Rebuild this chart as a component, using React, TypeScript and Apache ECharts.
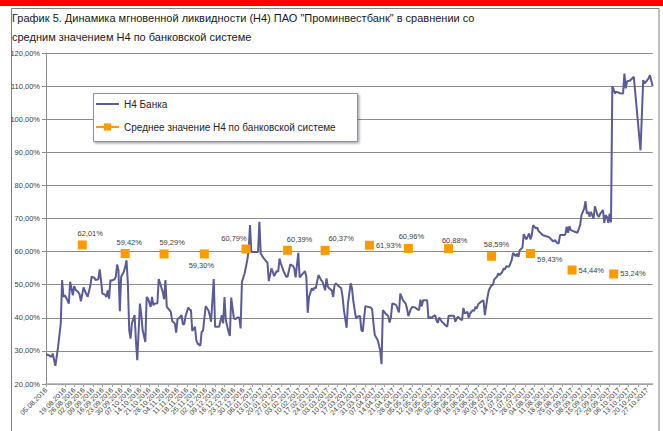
import React, { useEffect, useRef } from 'react';
import * as echarts from 'echarts';

// ---------- data ----------
const TITLE_LINES = [
  'График 5. Динамика мгновенной ликвидности (Н4) ПАО "Проминвестбанк" в сравнении со',
  'средним значением Н4 по банковской системе',
];
const SERIES_NAMES = ['Н4 Банка', 'Среднее значение Н4 по банковской системе'];

const START_DATE = '05.08.2016'; // first x-axis category (weekly labels)
const END_DAY = 452; // last day on the axis, counted from START_DATE
const LABEL_STEP_DAYS = 7;

const Y_MIN = 20;
const Y_MAX = 120;
const Y_STEP = 10;

// Bank H4, day offsets from START_DATE and values, %
const BANK_DAY = [
  0, 2, 4, 5, 7, 9, 11, 12, 13, 14, 16, 17, 18, 20, 21, 22, 24, 25, 26, 28, 29, 31, 33, 34, 36, 37, 39, 40, 41, 42,
  44, 45, 46, 47, 48, 49, 51, 52, 53, 54, 55, 56, 58, 59, 60, 61, 62, 63, 64, 66, 67, 68, 70, 71, 72, 74, 75, 76, 78, 79,
  80, 81, 83, 84, 85, 87, 88, 89, 90, 92, 93, 94, 96, 97, 98, 99, 101, 102, 103, 104, 106, 107, 108, 109, 111, 112, 113, 115, 116, 117,
  119, 121, 122, 123, 125, 126, 127, 129, 131, 132, 133, 134, 136, 137, 138, 140, 141, 143, 144, 145, 146, 148, 150, 151, 152, 153, 156, 158, 159, 160,
  162, 164, 165, 166, 168, 169, 170, 172, 173, 174, 175, 177, 179, 180, 182, 184, 185, 186, 188, 189, 190, 191, 193, 194, 195, 196, 198, 199, 200, 201,
  203, 204, 205, 206, 208, 209, 210, 211, 213, 214, 215, 216, 218, 220, 221, 222, 224, 225, 227, 228, 229, 231, 232, 234, 235, 236, 237, 238, 240, 242,
  243, 244, 245, 247, 248, 249, 250, 251, 253, 255, 256, 257, 258, 260, 261, 263, 264, 265, 266, 268, 269, 270, 272, 273, 275, 276, 278, 279, 280, 281,
  283, 284, 285, 286, 287, 288, 290, 291, 292, 293, 295, 296, 297, 298, 299, 300, 302, 304, 305, 306, 307, 309, 310, 311, 312, 314, 315, 316, 318, 319,
  320, 321, 322, 324, 326, 327, 329, 330, 332, 333, 334, 336, 337, 338, 340, 341, 342, 343, 345, 346, 347, 348, 350, 351, 352, 353, 355, 356, 357, 358,
  360, 361, 362, 363, 365, 366, 367, 369, 370, 372, 374, 375, 377, 378, 379, 381, 382, 383, 384, 386, 387, 388, 389, 390, 391, 393, 394, 396, 398, 399,
  401, 402, 403, 404, 405, 406, 407, 408, 409, 411, 412, 413, 414, 415, 416, 417, 418, 419, 420, 421, 422, 424, 425, 428, 430, 431, 432, 433, 435, 438,
  443, 445, 446, 447, 449, 450, 452,
];
const BANK_H4 = [
  29.0, 28.7, 28.2, 29.2, 25.5, 31.2, 38.3, 51.4, 46.3, 46.8, 45.3, 44.3, 50.9, 46.8, 49.6, 48.5, 47.8, 47.1, 45.0, 49.2, 48.1, 46.3, 49.6, 52.4, 52.1, 51.4, 51.6, 54.6, 51.4, 47.3,
  47.0, 46.3, 48.3, 45.8, 51.4, 51.2, 51.6, 52.4, 56.1, 54.4, 42.0, 52.4, 53.9, 55.4, 57.4, 50.4, 36.3, 33.7, 38.3, 40.8, 33.2, 27.2, 44.3, 40.8, 36.3, 32.7, 46.3, 45.8, 43.3, 46.3,
  43.8, 44.3, 44.3, 51.7, 50.4, 47.8, 45.6, 51.4, 43.3, 42.3, 41.8, 39.0, 38.3, 35.5, 39.6, 39.8, 40.8, 38.0, 38.1, 40.5, 43.1, 42.5, 42.3, 36.0, 37.3, 33.2, 32.2, 31.6, 35.8, 36.1,
  43.5, 42.3, 40.8, 38.8, 51.7, 37.3, 37.3, 37.3, 40.8, 38.3, 46.3, 39.3, 35.8, 34.5, 46.1, 39.8, 39.6, 40.1, 40.1, 36.8, 50.9, 53.4, 57.5, 60.3, 68.0, 59.9, 59.9, 59.9, 69.0, 59.4,
  58.1, 57.1, 56.7, 51.1, 54.9, 53.9, 52.6, 54.2, 53.9, 57.9, 56.4, 54.1, 52.4, 52.4, 56.1, 55.7, 54.9, 52.2, 59.6, 52.2, 52.7, 53.2, 54.1, 52.4, 41.5, 46.3, 48.9, 48.3, 49.1, 48.9,
  52.9, 52.2, 51.4, 50.9, 48.3, 51.9, 49.4, 48.9, 48.3, 46.3, 49.9, 50.4, 49.6, 48.9, 46.3, 42.3, 37.0, 44.3, 50.4, 48.9, 45.0, 39.8, 40.3, 40.6, 36.3, 35.8, 39.8, 43.5, 43.3, 43.1,
  42.6, 38.3, 34.8, 33.4, 31.9, 30.2, 26.0, 42.3, 41.3, 40.5, 38.6, 40.1, 44.3, 44.1, 43.8, 41.6, 47.3, 46.3, 45.3, 44.3, 42.8, 40.5, 42.8, 43.3, 43.1, 42.8, 42.3, 45.5, 43.5, 45.3,
  45.3, 45.3, 39.8, 40.3, 39.8, 40.3, 40.8, 39.1, 38.5, 40.1, 38.8, 38.5, 38.0, 37.6, 37.3, 40.6, 40.6, 40.6, 38.8, 39.8, 40.3, 39.5, 39.3, 43.0, 41.3, 41.8, 40.0, 41.3, 42.3, 42.1,
  43.3, 42.8, 44.1, 44.8, 45.3, 40.8, 46.3, 48.3, 49.9, 49.9, 51.6, 52.4, 53.4, 52.9, 53.9, 54.9, 54.6, 55.6, 55.4, 56.4, 57.4, 59.6, 58.6, 59.4, 58.4, 60.4, 61.2, 65.3, 64.3, 63.7,
  65.5, 63.7, 65.0, 68.0, 67.0, 67.3, 66.2, 65.5, 65.0, 64.7, 64.5, 64.3, 63.5, 63.0, 63.5, 62.6, 62.4, 65.0, 65.0, 65.0, 65.2, 67.5, 65.7, 67.7, 66.5, 66.2, 66.0, 65.7, 68.0, 71.0,
  73.0, 75.2, 71.5, 72.0, 70.5, 72.0, 71.0, 70.0, 73.7, 71.0, 70.5, 71.5, 72.0, 72.5, 68.7, 71.0, 70.5, 68.7, 71.5, 68.8, 110.0, 107.8, 108.3, 107.8, 107.8, 113.8, 109.3, 111.5, 111.6, 112.8,
  90.6, 111.8, 110.8, 111.3, 112.3, 113.3, 110.0,
];

// Banking-system average H4
const SYSTEM_DATES = [
  '01.09.2016', '03.10.2016', '01.11.2016', '01.12.2016', '01.01.2017', '01.02.2017', '01.03.2017',
  '03.04.2017', '02.05.2017', '01.06.2017', '03.07.2017', '01.08.2017', '01.09.2017', '02.10.2017',
];
const SYSTEM_H4 = [62.01, 59.42, 59.29, 59.3, 60.79, 60.39, 60.37, 61.93, 60.96, 60.88, 58.59, 59.43, 54.44, 53.24];

// ---------- styles ----------
const FONT = '"Liberation Sans", Arial, sans-serif';
const BANK_COLOR = '#5b5b97';
const SYSTEM_COLOR = '#ff9a00';
const GRID_COLOR = '#8c8c8c';
const TEXT_COLOR = '#404040';
// label placement per system point: [position, dx, dy]
const LABEL_PLACEMENT: [string, number, number][] = [
  ['top', 8, 0], ['top', 4, 0], ['top', 8, 0], ['bottom', -3, 0], ['top', -12, 1], ['top', 12, 1], ['top', 16, 0],
  ['right', 0, 0], ['top', 3, 0], ['top', 6, 3], ['top', 5, 0], ['right', 0, 6], ['right', 0, 0], ['right', 0, 0],
];

const DAY_MS = 86400000;
function parseDate(s: string): number {
  const [d, m, y] = s.split('.').map(Number);
  return Date.UTC(y, m - 1, d);
}
const START_MS = parseDate(START_DATE);
function dayOffset(s: string): number {
  return Math.round((parseDate(s) - START_MS) / DAY_MS);
}
function formatDay(v: number): string {
  const dt = new Date(START_MS + v * DAY_MS);
  const dd = String(dt.getUTCDate()).padStart(2, '0');
  const mm = String(dt.getUTCMonth() + 1).padStart(2, '0');
  return `${dd}.${mm}.${dt.getUTCFullYear()}`;
}
function pct(v: number): string {
  return v.toFixed(2).replace('.', ',') + '%';
}

export default function App() {
  const ref = useRef<HTMLDivElement>(null);

  useEffect(() => {
    if (!ref.current) return;
    const chart = echarts.init(ref.current, undefined, { renderer: 'svg' });

    const bankData = BANK_DAY.map((d, i) => [d, BANK_H4[i]]);
    const systemData = SYSTEM_DATES.map((s, i) => {
      const [pos, dx, dy] = LABEL_PLACEMENT[i];
      return {
        value: [dayOffset(s), SYSTEM_H4[i]],
        label: { position: pos, offset: [dx, dy], distance: pos === 'right' ? 2 : 3 },
      };
    });

    chart.setOption({
      animation: false,
      backgroundColor: '#ffffff',
      textStyle: { fontFamily: FONT },
      title: {
        text: TITLE_LINES.join('\n'),
        left: 12,
        top: 8,
        padding: 0,
        textStyle: { fontFamily: FONT, fontSize: 11, fontWeight: 'normal', color: '#1a1a1a', lineHeight: 19 },
      },
      graphic: {
        elements: [
          { type: 'rect', silent: true, z: 0, shape: { x: 0, y: 0, width: 663, height: 6 }, style: { fill: '#ff0000' } },
          {
            type: 'rect', silent: true, z: 0,
            shape: { x: 11.5, y: 8.5, width: 647.5, height: 440 },
            style: { fill: 'none', stroke: '#7f7f7f', lineWidth: 1 },
          },
          {
            type: 'rect', silent: true, z: 10,
            shape: { x: 93.5, y: 93.5, width: 264, height: 48 },
            style: {
              fill: '#ffffff', stroke: '#8f8fab', lineWidth: 1,
              shadowBlur: 2, shadowOffsetX: 1.5, shadowOffsetY: 1.5, shadowColor: 'rgba(0,0,0,0.35)',
            },
          },
        ],
      },
      legend: {
        orient: 'vertical',
        left: 95,
        top: 99,
        padding: 0,
        itemGap: 13,
        itemWidth: 23,
        itemHeight: 9,
        z: 12,
        textStyle: { fontFamily: FONT, fontSize: 10, color: '#262626' },
        data: [
          { name: SERIES_NAMES[0], itemStyle: { opacity: 0 }, lineStyle: { opacity: 1, color: BANK_COLOR, width: 2 } },
          { name: SERIES_NAMES[1], lineStyle: { opacity: 1, color: SYSTEM_COLOR, width: 2 } },
        ],
      },
      grid: { left: 46, right: 10.4, top: 53, bottom: 47 },
      xAxis: {
        type: 'value',
        min: 0,
        max: END_DAY,
        interval: LABEL_STEP_DAYS,
        splitLine: { show: false },
        axisLine: { show: true, onZero: false, lineStyle: { color: '#a6a6a6', width: 1.5 } },
        axisTick: { show: true, length: 3, lineStyle: { color: '#a6a6a6' } },
        axisLabel: {
          rotate: 45,
          fontSize: 7,
          color: TEXT_COLOR,
          margin: 5,
          showMinLabel: true,
          showMaxLabel: false,
          formatter: (v: number) => (v % LABEL_STEP_DAYS === 0 ? formatDay(v) : ''),
        },
      },
      yAxis: {
        type: 'value',
        min: Y_MIN,
        max: Y_MAX,
        interval: Y_STEP,
        axisLine: { show: true, lineStyle: { color: GRID_COLOR } },
        axisTick: { show: true, length: 4, lineStyle: { color: GRID_COLOR } },
        splitLine: { show: true, lineStyle: { color: GRID_COLOR, width: 1 } },
        axisLabel: { fontSize: 7.5, color: TEXT_COLOR, margin: 6, formatter: (v: number) => pct(v) },
      },
      series: [
        {
          name: SERIES_NAMES[0],
          type: 'line',
          data: bankData,
          symbol: 'none',
          z: 3,
          lineStyle: { color: BANK_COLOR, width: 2 },
          itemStyle: { color: BANK_COLOR },
        },
        {
          name: SERIES_NAMES[1],
          type: 'line',
          data: systemData,
          symbol: 'rect',
          symbolSize: 9,
          z: 4,
          itemStyle: { color: SYSTEM_COLOR },
          lineStyle: { color: SYSTEM_COLOR, width: 2, opacity: 0 },
          label: {
            show: true,
            fontFamily: FONT,
            fontSize: 7.5,
            color: TEXT_COLOR,
            formatter: (p: any) => pct(p.value[1]),
          },
        },
      ],
    });

    return () => chart.dispose();
  }, []);

  return (
    <div
      ref={ref}
      style={{ position: 'absolute', left: 0, top: 0, width: 663, height: 431 }}
    />
  );
}
